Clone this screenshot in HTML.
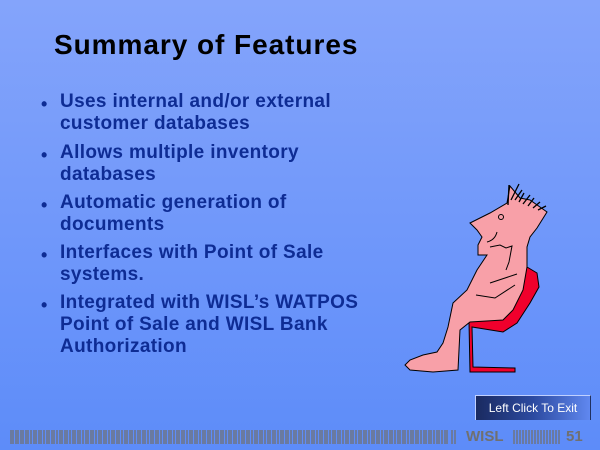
<!DOCTYPE html>
<html><head><style>
body{margin:0}
#s{position:relative;width:600px;height:450px;overflow:hidden;background:linear-gradient(#84a4fb,#5d8cf9);font-family:"Liberation Sans",sans-serif}
h1{position:absolute;left:54px;top:29px;margin:0;font-size:28px;font-weight:bold;color:#000;letter-spacing:0.95px}
.l{position:absolute;left:60px;font-size:19px;font-weight:bold;color:#0e2c94;line-height:22px;white-space:nowrap;letter-spacing:0.35px}
.b{position:absolute;left:41px;font-size:18px;font-weight:bold;color:#0e2c94;margin-top:2px}
#btn{position:absolute;left:475px;top:395px;width:114px;height:24px;background:linear-gradient(90deg,#1a2a60,#2c4aa0 50%,#6088f0);border-top:1px solid #c0d0ff;border-left:1px solid #c0d0ff;border-right:1px solid #203060;color:#fff;font-size:12px;line-height:24px;text-align:center}
.t{position:absolute;top:428px;font-size:15px;font-weight:bold;color:#707070}
</style></head><body><div id="s">
<h1>Summary of Features</h1>
<div class="b" style="top:92px">•</div><div class="l" style="top:91px">Uses internal and/or external<br>customer databases</div>
<div class="b" style="top:143px">•</div><div class="l" style="top:142px">Allows multiple inventory<br>databases</div>
<div class="b" style="top:193px">•</div><div class="l" style="top:192px">Automatic generation of<br>documents</div>
<div class="b" style="top:243px">•</div><div class="l" style="top:242px">Interfaces with Point of Sale<br>systems.</div>
<div class="b" style="top:293px">•</div><div class="l" style="top:292px">Integrated with WISL’s WATPOS<br>Point of Sale and WISL Bank<br>Authorization</div>
<svg style="position:absolute;left:0;top:0" width="600" height="450">
<path d="M527,267 L537,273 L539,287 L530,303 L517,323 L503,332 L472,327 L473,367 L515,368 L515,372 L470,372 L469,322 Z" fill="#f0002c" stroke="#000" stroke-width="1"/>
<path d="M470,223 L490,213 L507,203 L510,186 L520,198 L530,200 L547,212 L537,228 L530,237 L527,247 L527,267 L523,290 L513,310 L503,320 L470,322 L460,330 L458,370 L433,372 L410,370 L405,365 L410,360 L423,355 L437,352 L443,343 L448,327 L453,303 L467,290 L477,270 L487,255 L478,255 L478,245 L482,237 L477,230 Z" fill="#f8a0a8" stroke="#000" stroke-width="1"/>
<path d="M508,205 L509,185 M511,200 L519,184 M515,200 L522,190 M519,202 L524,193 M523,204 L530,195 M528,206 L534,198 M533,208 L540,202 M538,210 L546,206" stroke="#000" stroke-width="1.3"/>
<circle cx="501" cy="217" r="2.5" fill="none" stroke="#000"/>
<path d="M487,242 Q495,240 497,232 M490,247 L500,245 L506,248 L512,246 L509,262 L506,270 M490,283 L517,274 M476,295 L495,298 L515,285" fill="none" stroke="#000"/>
</svg>
<div id="btn">Left Click To Exit</div>
<svg style="position:absolute;left:0;top:430px" width="600" height="14"><g stroke="#707070" stroke-width="1.3">
<path d="M11,0V14M13,0V14M16,0V14M18,0V14M21,0V14M23,0V14M26,0V14M28,0V14M31,0V14M34,0V14M36,0V14M39,0V14M41,0V14M44,0V14M47,0V14M49,0V14M52,0V14M54,0V14M57,0V14M60,0V14M62,0V14M65,0V14M67,0V14M70,0V14M73,0V14M75,0V14M78,0V14M80,0V14M83,0V14M86,0V14M88,0V14M91,0V14M93,0V14M96,0V14M99,0V14M101,0V14M104,0V14M106,0V14M109,0V14M112,0V14M114,0V14M117,0V14M119,0V14M122,0V14M125,0V14M127,0V14M130,0V14M132,0V14M135,0V14M138,0V14M140,0V14M143,0V14M145,0V14M148,0V14M151,0V14M153,0V14M156,0V14M158,0V14M161,0V14M164,0V14M166,0V14M169,0V14M171,0V14M174,0V14M177,0V14M179,0V14M182,0V14M184,0V14M187,0V14M190,0V14M192,0V14M195,0V14M197,0V14M200,0V14M203,0V14M205,0V14M208,0V14M210,0V14M213,0V14M216,0V14M218,0V14M221,0V14M223,0V14M226,0V14M229,0V14M231,0V14M234,0V14M236,0V14M239,0V14M242,0V14M244,0V14M247,0V14M249,0V14M252,0V14M255,0V14M257,0V14M260,0V14M262,0V14M265,0V14M268,0V14M270,0V14M273,0V14M275,0V14M278,0V14M281,0V14M283,0V14M286,0V14M288,0V14M291,0V14M294,0V14M296,0V14M299,0V14M301,0V14M304,0V14M307,0V14M309,0V14M312,0V14M314,0V14M317,0V14M320,0V14M322,0V14M325,0V14M327,0V14M330,0V14M333,0V14M335,0V14M338,0V14M340,0V14M343,0V14M346,0V14M348,0V14M351,0V14M353,0V14M356,0V14M359,0V14M361,0V14M364,0V14M366,0V14M369,0V14M372,0V14M374,0V14M377,0V14M379,0V14M382,0V14M385,0V14M387,0V14M390,0V14M392,0V14M395,0V14M398,0V14M400,0V14M403,0V14M405,0V14M408,0V14M411,0V14M413,0V14M416,0V14M418,0V14M421,0V14M424,0V14M426,0V14M429,0V14M431,0V14M434,0V14M437,0V14M439,0V14M442,0V14M445,0V14M447,0V14M452,0V14M455,0V14"/>
<path d="M514,0V14M517,0V14M520,0V14M523,0V14M526,0V14M529,0V14M532,0V14M535,0V14M538,0V14M541,0V14M544,0V14M547,0V14M550,0V14M553,0V14M556,0V14M559,0V14"/>
</g></svg>
<div class="t" style="left:466px">WISL</div>
<div class="t" style="left:566px">51</div>
</div></body></html>
